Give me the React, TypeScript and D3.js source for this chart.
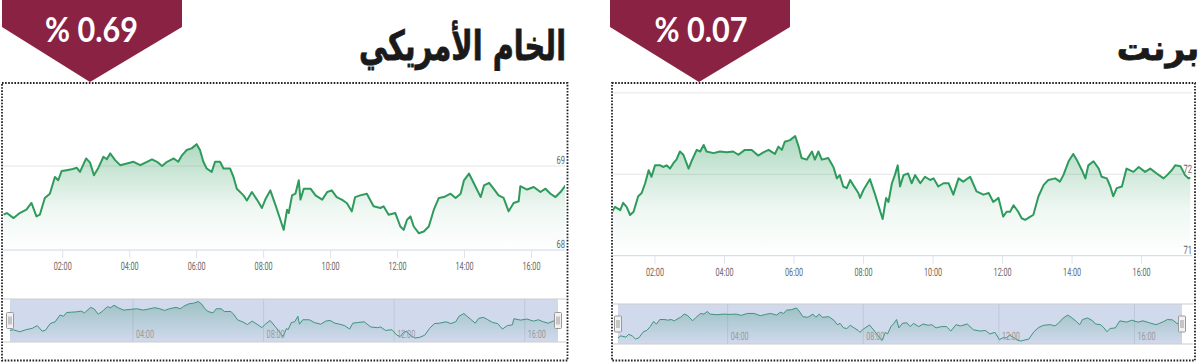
import React from "react";
import * as d3 from "d3";

// ---------- DATA ----------
const wtiMinutes = [
  14, 20, 32, 43, 55, 64, 73, 79, 88, 97,
  106, 112, 118, 127, 136, 145, 151, 162, 169, 176,
  184, 193, 199, 205, 214, 223, 235, 247, 259, 271,
  280, 289, 298, 307, 319, 327, 333, 342, 351, 360,
  366, 372, 378, 387, 393, 402, 408, 420, 426, 432,
  444, 450, 459, 468, 477, 483, 492, 501, 510, 516,
  522, 525, 531, 537, 543, 546, 552, 564, 573, 585,
  594, 602, 611, 620, 629, 638, 644, 653, 665, 677,
  689, 695, 704, 716, 725, 731, 737, 743, 749, 758,
  767, 776, 785, 794, 803, 815, 824, 833, 839, 848,
  854, 860, 869, 875, 884, 892, 901, 910, 919, 928,
  937, 940, 952, 964, 976, 985, 994, 1003, 1012, 1021,
];
const wtiValues = [
  68.42, 68.44, 68.38, 68.44, 68.48, 68.56, 68.4, 68.42, 68.62, 68.67,
  68.87, 68.83, 68.94, 68.95, 68.96, 68.98, 68.93, 69.09, 69.04, 68.89,
  68.98, 69.11, 69.08, 69.15, 69.07, 69.01, 69.03, 69.05, 69.01, 69.05,
  69.08, 69.05, 69.0, 69.05, 69.09, 69.05, 69.12, 69.19, 69.21, 69.26,
  69.19, 69.05, 68.97, 68.93, 69.05, 69.05, 68.97, 68.97, 68.87, 68.73,
  68.65, 68.59, 68.69, 68.6, 68.5, 68.6, 68.71, 68.54, 68.36, 68.24,
  68.48, 68.44, 68.65, 68.67, 68.83, 68.6, 68.73, 68.73, 68.65, 68.6,
  68.69, 68.71, 68.63, 68.6, 68.56, 68.46, 68.63, 68.65, 68.67, 68.52,
  68.5, 68.52, 68.42, 68.44, 68.28, 68.24, 68.36, 68.4, 68.28, 68.2,
  68.22, 68.28, 68.48, 68.62, 68.63, 68.67, 68.62, 68.67, 68.83, 68.91,
  68.83, 68.75, 68.63, 68.77, 68.8, 68.73, 68.65, 68.62, 68.46, 68.56,
  68.58, 68.76, 68.72, 68.75, 68.69, 68.73, 68.67, 68.63, 68.69, 68.77,
];
const brentMinutes = [
  46, 51, 60, 65, 71, 77, 83, 91, 97, 103,
  109, 114, 120, 129, 134, 140, 146, 152, 157, 163,
  169, 178, 183, 192, 198, 204, 209, 221, 232, 244,
  255, 264, 275, 287, 298, 307, 316, 327, 333, 339,
  344, 353, 362, 368, 373, 382, 391, 396, 402, 408,
  419, 428, 434, 439, 445, 451, 457, 462, 471, 474,
  480, 491, 500, 509, 513, 519, 523, 529, 534, 539,
  543, 549, 557, 563, 569, 578, 586, 595, 601, 609,
  618, 627, 635, 644, 652, 664, 675, 687, 696, 704,
  713, 721, 727, 733, 739, 747, 753, 759, 768, 773,
  782, 791, 799, 811, 819, 825, 834, 842, 848, 857,
  863, 868, 877, 886, 891, 900, 906, 911, 917, 926,
  934, 946, 955, 966, 975, 986, 998, 1004, 1012, 1018,
  1027, 1035, 1041, 1044,
];
const brentValues = [
  71.54, 71.6, 71.56, 71.65, 71.6, 71.5, 71.54, 71.73, 71.77, 71.89,
  72.05, 71.97, 72.11, 72.11, 72.09, 72.11, 72.07, 72.14, 72.18, 72.28,
  72.24, 72.07, 72.16, 72.3, 72.28, 72.36, 72.28, 72.26, 72.28, 72.27,
  72.28, 72.24, 72.3, 72.3, 72.23, 72.27, 72.3, 72.25, 72.34, 72.3,
  72.4, 72.42, 72.47, 72.34, 72.2, 72.18, 72.28, 72.18, 72.28, 72.18,
  72.2, 72.09, 71.95, 71.99, 71.85, 71.83, 71.93, 71.87, 71.77, 71.71,
  71.81, 71.94, 71.75, 71.54, 71.45, 71.71, 71.66, 71.89, 71.99, 72.11,
  71.85, 71.99, 72.01, 71.89, 71.99, 71.89, 71.97, 71.93, 71.95, 71.85,
  71.89, 71.89, 71.75, 71.95, 71.91, 71.97, 71.79, 71.75, 71.77, 71.66,
  71.71, 71.48, 71.54, 71.54, 71.62, 71.54, 71.46, 71.44, 71.48, 71.5,
  71.73, 71.87, 71.93, 71.95, 71.91, 71.99, 72.16, 72.25, 72.18, 72.05,
  71.95, 72.11, 72.16, 72.07, 71.97, 71.95, 71.85, 71.73, 71.83, 71.85,
  72.07, 72.03, 72.09, 72.03, 72.07, 72.01, 71.95, 71.99, 72.05, 72.11,
  72.1, 71.99, 71.95, 71.96,
];
const xTickMinutes = [120, 240, 360, 480, 600, 720, 840, 960];
const xTickLabels = ["02:00", "04:00", "06:00", "08:00", "10:00", "12:00", "14:00", "16:00"];
const navTickMinutes = [240, 480, 720, 960];
const navTickLabels = ["04:00", "08:00", "12:00", "16:00"];
const wtiYTicks = [68, 69];
const brentYTicks = [71, 72];
const wtiTitle = "الخام الأمريكي";
const brentTitle = "برنت";
const wtiChange = "% 0.69";
const brentChange = "% 0.07";

// ---------- STYLE ----------
const GREEN = "#2e9b5c";
const MAROON = "#8a2244";
const LABEL_FONT = "Roboto, 'Liberation Sans', sans-serif";

type Layout = {
  border: [number, number, number, number];
  xRange: [number, number];
  yDomain: [number, number];
  yRange: [number, number];
  plotLeft: number;
  plotRight: number;
  extraGrid: number[];
  navX: [number, number];
  navBand: [number, number];
  navY: [number, number];
  badge: { x0: number; x1: number; tip: number; rb: number; ty: number; cx: number };
  titleCx: number;
  titleW: number;
  titleSize: number;
};

const wtiLayout: Layout = {
  border: [2, 83, 565.5, 277.5],
  xRange: [62.7, 531.5],
  yDomain: [68, 69],
  yRange: [250, 166],
  plotLeft: 3,
  plotRight: 565,
  extraGrid: [],
  navX: [10, 558],
  navBand: [299, 342],
  navY: [338, 301.5],
  badge: { x0: 2, x1: 182, tip: 90, rb: 27, ty: 82, cx: 91.5 },
  titleCx: 462.5,
  titleW: 207,
  titleSize: 41,
};

const brentLayout: Layout = {
  border: [612, 83, 583, 277.5],
  xRange: [655, 1141.6],
  yDomain: [71, 72],
  yRange: [255.7, 174.3],
  plotLeft: 613,
  plotRight: 1192,
  extraGrid: [73],
  navX: [618, 1182],
  navBand: [304, 344],
  navY: [341, 308],
  badge: { x0: 610, x1: 790, tip: 699, rb: 27, ty: 82, cx: 701 },
  titleCx: 1158,
  titleW: 0,
  titleSize: 34,
};

type Pt = { m: number; v: number };

function Panel({
  id,
  minutes,
  values,
  yTicks,
  title,
  change,
  L,
}: {
  id: string;
  minutes: number[];
  values: number[];
  yTicks: number[];
  title: string;
  change: string;
  L: Layout;
}) {
  const n = Math.min(minutes.length, values.length);
  const data: Pt[] = d3.range(n).map((i) => ({ m: minutes[i], v: values[i] }));

  const x = d3.scaleLinear().domain([120, 960]).range(L.xRange);
  const y = d3.scaleLinear().domain(L.yDomain).range(L.yRange);
  const axisY = y(L.yDomain[0]);
  const vMax = d3.max(data, (d) => d.v) as number;

  const line = d3.line<Pt>().x((d) => x(d.m)).y((d) => y(d.v));
  const area = d3
    .area<Pt>()
    .x((d) => x(d.m))
    .y0(axisY)
    .y1((d) => y(d.v));

  const nx = d3
    .scaleLinear()
    .domain(d3.extent(data, (d) => d.m) as [number, number])
    .range(L.navX);
  const ny = d3
    .scaleLinear()
    .domain(d3.extent(data, (d) => d.v) as [number, number])
    .range(L.navY);
  const navLine = d3.line<Pt>().x((d) => nx(d.m)).y((d) => ny(d.v));
  const navArea = d3
    .area<Pt>()
    .x((d) => nx(d.m))
    .y0(L.navBand[1])
    .y1((d) => ny(d.v));

  const [bx, by, bw, bh] = L.border;
  const b = L.badge;
  const navMid = (L.navBand[0] + L.navBand[1]) / 2;

  const handle = (hx: number) => (
    <g>
      <rect x={hx - 3.5} y={navMid - 8} width={7} height={16} rx={1} fill="#f2f2f2" stroke="#999" strokeWidth={1} />
      <line x1={hx - 1} x2={hx - 1} y1={navMid - 4} y2={navMid + 4} stroke="#999" strokeWidth={1} />
      <line x1={hx + 1} x2={hx + 1} y1={navMid - 4} y2={navMid + 4} stroke="#999" strokeWidth={1} />
    </g>
  );

  const labelProps = {
    fontFamily: LABEL_FONT,
    fontSize: 11.5,
    lengthAdjust: "spacingAndGlyphs" as const,
    style: { textRendering: "geometricPrecision" as const },
  };

  const titleFit = L.titleW > 0 ? { textLength: L.titleW, lengthAdjust: "spacingAndGlyphs" as const } : {};

  return (
    <g>
      <defs>
        <linearGradient id={`grad-${id}`} gradientUnits="userSpaceOnUse" x1={0} x2={0} y1={y(vMax)} y2={axisY}>
          <stop offset="0" stopColor={GREEN} stopOpacity={0.38} />
          <stop offset="0.6" stopColor={GREEN} stopOpacity={0.08} />
          <stop offset="1" stopColor={GREEN} stopOpacity={0} />
        </linearGradient>
        <linearGradient id={`ngrad-${id}`} gradientUnits="userSpaceOnUse" x1={0} x2={0} y1={L.navY[1]} y2={L.navBand[1]}>
          <stop offset="0" stopColor={GREEN} stopOpacity={0.35} />
          <stop offset="1" stopColor={GREEN} stopOpacity={0} />
        </linearGradient>
        <clipPath id={`clip-${id}`}>
          <rect x={L.plotLeft} y={by + 2} width={L.plotRight - L.plotLeft} height={axisY - by - 2} />
        </clipPath>
      </defs>

      {/* badge */}
      <polygon
        points={`${b.x0},0 ${b.x1},0 ${b.x1},${b.rb} ${b.tip},${b.ty} ${b.x0},${b.rb}`}
        fill={MAROON}
      />
      <text
        x={b.cx}
        y={42}
        textAnchor="middle"
        fill="#fff"
        fontFamily="Lato, 'Open Sans', sans-serif"
        fontWeight={700}
        fontSize={34}
        textLength={93}
        lengthAdjust="spacingAndGlyphs"
      >
        {change}
      </text>

      {/* title */}
      <text
        x={L.titleCx}
        y={60}
        textAnchor="middle"
        fill="#1a1a1a"
        fontFamily="'DejaVu Sans', sans-serif"
        fontWeight="bold"
        fontSize={L.titleSize}
        stroke="#1a1a1a"
        strokeWidth={0.8}
        {...titleFit}
      >
        {title}
      </text>

      {/* gridlines */}
      {yTicks
        .filter((t) => t !== L.yDomain[0])
        .concat(L.extraGrid)
        .map((t) => (
          <line key={`g${t}`} x1={L.plotLeft} x2={L.plotRight} y1={y(t)} y2={y(t)} stroke="#e6e6e6" strokeWidth={1} />
        ))}

      {/* series */}
      <g clipPath={`url(#clip-${id})`}>
        <path d={area(data) || ""} fill={`url(#grad-${id})`} />
        <path d={line(data) || ""} fill="none" stroke={GREEN} strokeWidth={2} strokeLinejoin="round" />
      </g>

      {/* x axis */}
      <line x1={L.plotLeft} x2={L.plotRight} y1={axisY} y2={axisY} stroke="#ccd6eb" strokeWidth={1} />
      {xTickMinutes.map((m, i) => (
        <g key={`xt${m}`}>
          <line x1={x(m)} x2={x(m)} y1={axisY} y2={axisY + 8} stroke="#dde3f0" strokeWidth={1} />
          <text x={x(m)} y={axisY + 20} textAnchor="middle" fill="#666" textLength={18} {...labelProps}>
            {xTickLabels[i]}
          </text>
        </g>
      ))}

      {/* y labels */}
      {yTicks.map((t) => (
        <text key={`yl${t}`} x={L.plotRight} y={y(t) - 1.8} textAnchor="end" fill="#666" textLength={8.5} {...labelProps}>
          {String(t)}
        </text>
      ))}

      {/* navigator */}
      {navTickMinutes.map((m) => (
        <line key={`ng${m}`} x1={nx(m)} x2={nx(m)} y1={L.navBand[0]} y2={L.navBand[1]} stroke="#e6e6e6" strokeWidth={1} />
      ))}
      <path d={navArea(data) || ""} fill={`url(#ngrad-${id})`} />
      <path d={navLine(data) || ""} fill="none" stroke={GREEN} strokeWidth={1} />
      <rect
        x={L.navX[0]}
        y={L.navBand[0]}
        width={L.navX[1] - L.navX[0]}
        height={L.navBand[1] - L.navBand[0]}
        fill="rgba(102,133,194,0.3)"
      />
      {navTickMinutes.map((m, i) => (
        <text key={`nl${m}`} x={nx(m) + 3} y={L.navBand[1] - 4} fill="#999" textLength={18} {...labelProps}>
          {navTickLabels[i]}
        </text>
      ))}
      <line x1={L.plotLeft - 1} x2={L.plotRight + 1} y1={L.navBand[0]} y2={L.navBand[0]} stroke="#cccccc" strokeWidth={1} />
      <line x1={L.plotLeft - 1} x2={L.plotRight + 1} y1={L.navBand[1]} y2={L.navBand[1]} stroke="#cccccc" strokeWidth={1} />
      {handle(L.navX[0])}
      {handle(L.navX[1])}

      {/* dotted border */}
      <rect
        x={bx}
        y={by}
        width={bw}
        height={bh}
        fill="none"
        stroke="#222"
        strokeWidth={1.8}
        strokeDasharray="1.6 1.5"
      />
    </g>
  );
}

export default function App() {
  return (
    <div style={{ position: "absolute", left: 0, top: 0, width: 1200, height: 364, background: "#fff" }}>
      <svg width={1200} height={364} viewBox="0 0 1200 364" style={{ display: "block" }}>
        <rect x={0} y={0} width={1200} height={364} fill="#fff" />
        <Panel id="wti" minutes={wtiMinutes} values={wtiValues} yTicks={wtiYTicks} title={wtiTitle} change={wtiChange} L={wtiLayout} />
        <Panel id="brent" minutes={brentMinutes} values={brentValues} yTicks={brentYTicks} title={brentTitle} change={brentChange} L={brentLayout} />
      </svg>
    </div>
  );
}
